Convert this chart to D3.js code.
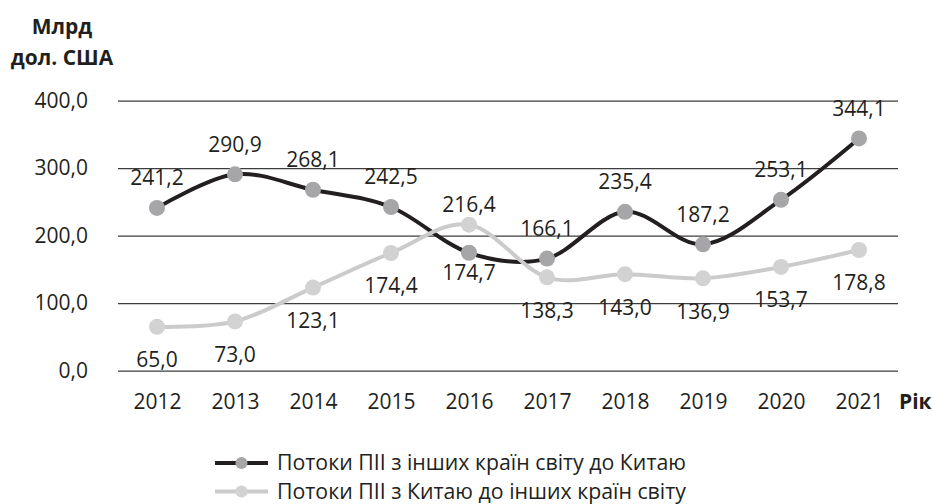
<!DOCTYPE html>
<html>
<head>
<meta charset="utf-8">
<script src="https://cdn.jsdelivr.net/npm/d3@7"></script>
<style>
  body { margin: 0; background: #fff; }
  text { font-family: "Open Sans", sans-serif; fill: #231f20; }
</style>
</head>
<body>
<div id="grafico"></div>
<script>
// Datos
const anios = ["2012", "2013", "2014", "2015", "2016", "2017", "2018", "2019", "2020", "2021"];
const flujosHaciaChina = [241.2, 290.9, 268.1, 242.5, 174.7, 166.1, 235.4, 187.2, 253.1, 344.1];
const flujosDesdeChina = [65.0, 73.0, 123.1, 174.4, 216.4, 138.3, 143.0, 136.9, 153.7, 178.8];
const ticksY = [0, 100, 200, 300, 400];
const nombresSeries = [
  "Потоки ПІІ з інших країн світу до Китаю",
  "Потоки ПІІ з Китаю до інших країн світу"
];

const width = 932;
const height = 504;

const svg = d3.select("#grafico")
  .append("svg")
  .attr("width", width)
  .attr("height", height);

svg.append("rect")
  .attr("width", width)
  .attr("height", height)
  .attr("fill", "#fff");

const x = d3.scalePoint().domain(anios).range([118, 898]).padding(0.5);
const y = d3.scaleLinear().domain([0, 400]).range([370.7, 100.7]);

// formato con coma decimal
const locale = d3.formatLocale({ decimal: ",", thousands: " ", grouping: [3], currency: ["", ""] });
const fmt = locale.format(".1f");

// Eje Y con líneas de cuadrícula
const ejeY = svg.append("g")
  .attr("transform", "translate(118,0)")
  .call(d3.axisLeft(y).tickValues(ticksY).tickFormat(fmt).tickSize(-780).tickPadding(30));
ejeY.select(".domain").remove();
ejeY.selectAll(".tick line").attr("stroke", "#3d3d3d").attr("stroke-width", 1.2);
ejeY.selectAll(".tick text")
  .attr("font-family", "'Open Sans', sans-serif")
  .attr("font-size", 21)
  .attr("fill", "#231f20");

// Eje X
const ejeX = svg.append("g")
  .attr("transform", "translate(0,370.7)")
  .call(d3.axisBottom(x).tickSize(0).tickPadding(23));
ejeX.select(".domain").remove();
ejeX.selectAll(".tick text")
  .attr("font-family", "'Open Sans', sans-serif")
  .attr("font-size", 21)
  .attr("fill", "#231f20");

svg.append("text")
  .attr("x", 899).attr("y", 370.7 + 23).attr("dy", "0.71em")
  .style("font-size", "21px").style("font-weight", "bold")
  .text("Рік");

// Título eje Y
svg.append("text").attr("x", 62).attr("y", 34)
  .attr("text-anchor", "middle")
  .style("font-size", "21px").style("font-weight", "bold")
  .text("Млрд");
svg.append("text").attr("x", 62).attr("y", 65)
  .attr("text-anchor", "middle")
  .style("font-size", "21px").style("font-weight", "bold")
  .text("дол. США");

const series = [
  { valores: flujosHaciaChina, linea: "#231f20", punto: "#a6a6a9" },
  { valores: flujosDesdeChina, linea: "#cbcbcb", punto: "#d2d2d2" }
];

const linea = d3.line()
  .x((d, i) => x(anios[i]))
  .y(d => y(d))
  .curve(d3.curveCardinal.tension(0));

series.forEach(s => {
  const g = svg.append("g");
  g.append("path")
    .attr("d", linea(s.valores))
    .attr("fill", "none")
    .attr("stroke", s.linea)
    .attr("stroke-width", 4);
  g.selectAll("circle")
    .data(s.valores)
    .join("circle")
    .attr("cx", (d, i) => x(anios[i]))
    .attr("cy", d => y(d))
    .attr("r", 8)
    .attr("fill", s.punto);
});

// Etiquetas: encima si la serie es la mayor ese año, debajo si no
// (más juntas cuando las dos series se cruzan)
series.forEach((s, k) => {
  const otra = series[1 - k].valores;
  const invertido = (i) => (flujosDesdeChina[i] > flujosHaciaChina[i]) && i > 0;
  svg.append("g").selectAll("text")
    .data(s.valores)
    .join("text")
    .attr("x", (d, i) => x(anios[i]))
    .attr("y", (d, i) => {
      const off = invertido(i) ? 20 : null;
      return d >= otra[i] ? y(d) - (off || 30) : y(d) + (off || 33);
    })
    .attr("dy", "0.35em")
    .attr("text-anchor", "middle")
    .style("font-size", "21px")
    .text(d => fmt(d));
});

// Leyenda
const leyenda = svg.append("g");
series.forEach((s, k) => {
  const cy = 463 + k * 28.5;
  leyenda.append("line")
    .attr("x1", 215).attr("x2", 268)
    .attr("y1", cy).attr("y2", cy)
    .attr("stroke", s.linea).attr("stroke-width", 4);
  leyenda.append("circle")
    .attr("cx", 241.5).attr("cy", cy).attr("r", 6)
    .attr("fill", s.punto);
  leyenda.append("text")
    .attr("x", 277).attr("y", cy).attr("dy", "0.35em")
    .style("font-size", "21.3px")
    .text(nombresSeries[k]);
});
</script>
</body>
</html>
